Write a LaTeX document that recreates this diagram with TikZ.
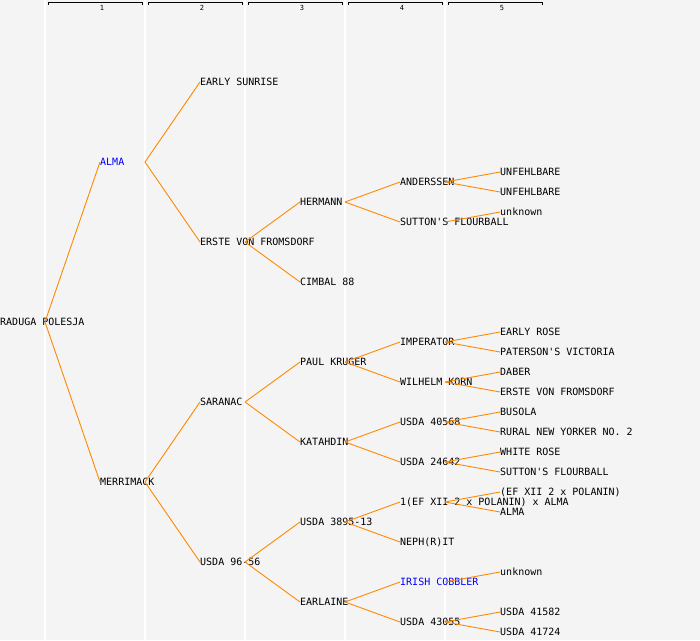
\documentclass[tikz,border=0pt]{standalone}
\usepackage{fontspec}
\newfontfamily\pedfont{DejaVu Sans Mono}
\definecolor{panelgray}{RGB}{244,244,244}
\definecolor{linkorange}{RGB}{255,136,0}

\begin{document}
\begin{tikzpicture}[x=1pt,y=-1pt,
   cv/.style={anchor=west,inner sep=0pt,text height=7.3pt,text depth=0pt,
              font=\pedfont\fontsize{10pt}{12pt}\selectfont},
   cvblue/.style={cv,text=blue},
   genlabel/.style={inner sep=0pt,font=\pedfont\fontsize{7pt}{8pt}\selectfont},
   link/.style={draw=linkorange,line width=0.9pt}]
   \fill[panelgray] (0,0) rectangle (700,640);
   \useasboundingbox (0,0) rectangle (700,640);
   % generation columns
   \foreach \g in {1,...,5} {
      \draw[white,line width=1.5pt] (\g*100-55,0) -- (\g*100-55,640);
      \draw[line width=1pt] (\g*100-52,4.5) -- (\g*100-52,2) -- (\g*100+42,2) -- (\g*100+42,4.5);
      \node[genlabel] (gen\g) at (\g*100+2,7.5) {\g};
   }
   % generation 0 and 1
   \node[cv] (raduga) at (0,322) {RADUGA POLESJA};
   \node[cvblue] (alma) at (100,162) {ALMA};
   \node[cv] (merrimack) at (100,482) {MERRIMACK};
   % generation 2
   \node[cv] (sunrise) at (200,82) {EARLY SUNRISE};
   \node[cv] (erste) at (200,242) {ERSTE VON FROMSDORF};
   \node[cv] (saranac) at (200,402) {SARANAC};
   \node[cv] (usdaA) at (200,562) {USDA 96-56};
   % generation 3
   \node[cv] (hermann) at (300,202) {HERMANN};
   \node[cv] (cimbal) at (300,282) {CIMBAL 88};
   \node[cv] (kruger) at (300,362) {PAUL KRUGER};
   \node[cv] (katahdin) at (300,442) {KATAHDIN};
   \node[cv] (usdaB) at (300,522) {USDA 3895-13};
   \node[cv] (earlaine) at (300,602) {EARLAINE};
   % generation 4
   \node[cv] (anderssen) at (400,182) {ANDERSSEN};
   \node[cv] (sutton) at (400,222) {SUTTON\textquotesingle S FLOURBALL};
   \node[cv] (imperator) at (400,342) {IMPERATOR};
   \node[cv] (korn) at (400,382) {WILHELM KORN};
   \node[cv] (usdaC) at (400,422) {USDA 40568};
   \node[cv] (usdaD) at (400,462) {USDA 24642};
   \node[cv] (efxii) at (400,502) {1(EF XII 2 x POLANIN) x ALMA};
   \node[cv] (nephrit) at (400,542) {NEPH(R)IT};
   \node[cvblue] (cobbler) at (400,582) {IRISH COBBLER};
   \node[cv] (usdaE) at (400,622) {USDA 43055};
   % generation 5
   \node[cv] (unfehlA) at (500,172) {UNFEHLBARE};
   \node[cv] (unfehlB) at (500,192) {UNFEHLBARE};
   \node[cv] (unknownA) at (500,212) {unknown};
   \node[cv] (earlyrose) at (500,332) {EARLY ROSE};
   \node[cv] (paterson) at (500,352) {PATERSON\textquotesingle S VICTORIA};
   \node[cv] (daber) at (500,372) {DABER};
   \node[cv] (ersteB) at (500,392) {ERSTE VON FROMSDORF};
   \node[cv] (busola) at (500,412) {BUSOLA};
   \node[cv] (rural) at (500,432) {RURAL NEW YORKER NO. 2};
   \node[cv] (whiterose) at (500,452) {WHITE ROSE};
   \node[cv] (suttonB) at (500,472) {SUTTON\textquotesingle S FLOURBALL};
   \node[cv] (efpol) at (500,492) {(EF XII 2 x POLANIN)};
   \node[cv] (almaB) at (500,512) {ALMA};
   \node[cv] (unknownB) at (500,572) {unknown};
   \node[cv] (usdaF) at (500,612) {USDA 41582};
   \node[cv] (usdaG) at (500,632) {USDA 41724};
   % parent links
   \path[link]
   ([xshift=45pt]raduga.west) edge (alma.west) edge (merrimack.west)
   ([xshift=45pt]alma.west) edge (sunrise.west) edge (erste.west)
   ([xshift=45pt]merrimack.west) edge (saranac.west) edge (usdaA.west)
   ([xshift=45pt]erste.west) edge (hermann.west) edge (cimbal.west)
   ([xshift=45pt]saranac.west) edge (kruger.west) edge (katahdin.west)
   ([xshift=45pt]usdaA.west) edge (usdaB.west) edge (earlaine.west)
   ([xshift=45pt]hermann.west) edge (anderssen.west) edge (sutton.west)
   ([xshift=45pt]kruger.west) edge (imperator.west) edge (korn.west)
   ([xshift=45pt]katahdin.west) edge (usdaC.west) edge (usdaD.west)
   ([xshift=45pt]usdaB.west) edge (efxii.west) edge (nephrit.west)
   ([xshift=45pt]earlaine.west) edge (cobbler.west) edge (usdaE.west)
   ([xshift=45pt]anderssen.west) edge (unfehlA.west) edge (unfehlB.west)
   ([xshift=45pt]sutton.west) edge (unknownA.west)
   ([xshift=45pt]imperator.west) edge (earlyrose.west) edge (paterson.west)
   ([xshift=45pt]korn.west) edge (daber.west) edge (ersteB.west)
   ([xshift=45pt]usdaC.west) edge (busola.west) edge (rural.west)
   ([xshift=45pt]usdaD.west) edge (whiterose.west) edge (suttonB.west)
   ([xshift=45pt]efxii.west) edge (efpol.west) edge (almaB.west)
   ([xshift=45pt]cobbler.west) edge (unknownB.west)
   ([xshift=45pt]usdaE.west) edge (usdaF.west) edge (usdaG.west);
\end{tikzpicture}
\end{document}
